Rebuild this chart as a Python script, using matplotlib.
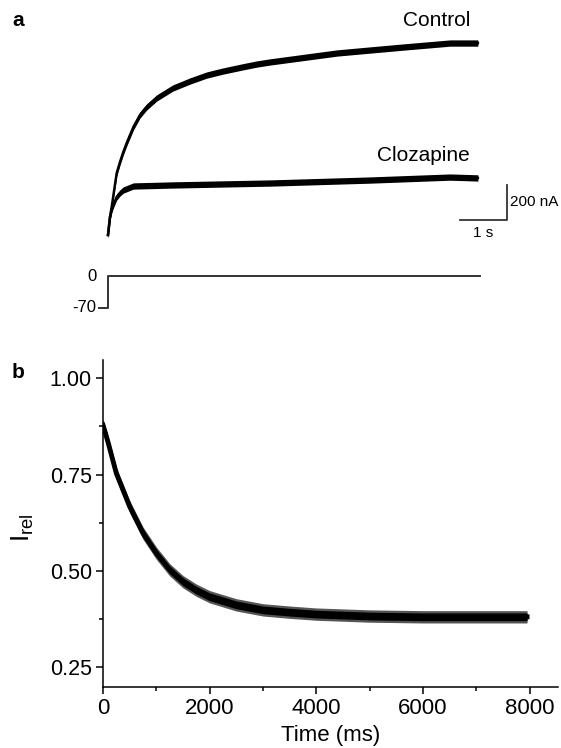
import numpy as np
import matplotlib
matplotlib.use("Agg")
from matplotlib import pyplot as plt
from matplotlib.ticker import MultipleLocator, FormatStrFormatter

plt.rcParams['font.family'] = ['Liberation Sans', 'DejaVu Sans']

# panel a: current traces (time in s, current in nA)
ctrl_t = [0, 0.043, 0.078, 0.185, 0.255, 0.325, 0.398, 0.54, 0.681, 0.82, 1.036, 1.38, 1.745,
          2.10, 2.447, 2.85, 3.164, 3.45, 4.87, 5.57, 6.28, 7.28, 7.87]
ctrl_i = [0, 103, 160, 354, 417, 474, 526, 617, 686, 731, 783, 840, 880,
          914, 937, 960, 977, 989, 1040, 1057, 1074, 1097, 1097]
cloz_t = [0, 0.043, 0.078, 0.113, 0.185, 0.255, 0.325, 0.54, 1.39, 3.45, 5.57, 7.28, 7.87]
cloz_i = [0, 103, 143, 171, 217, 240, 257, 280, 286, 297, 314, 331, 326]

# voltage protocol (s, mV)
prot_t = [-0.2, 0, 0, 7.91]
prot_v = [-70, -70, 0, 0]

# panel b: relative current (ms)
rel_t = [0, 50, 100, 250, 500, 750, 1000, 1250, 1500, 1750, 2000, 2500, 3000, 3500, 4000,
         5000, 6000, 7000, 7950]
rel_i = [0.878, 0.855, 0.831, 0.753, 0.667, 0.598, 0.546, 0.503, 0.472, 0.45, 0.433, 0.412,
         0.399, 0.393, 0.388, 0.383, 0.381, 0.381, 0.381]
fit_t = [0, 250, 500, 750, 1000, 1500, 2000, 2500, 3000, 4000, 5000, 6000, 7000, 7950]
fit_i = [0.87, 0.75, 0.662, 0.592, 0.54, 0.465, 0.425, 0.405, 0.394, 0.385, 0.382, 0.381, 0.381, 0.381]

W, H = 561, 748
fig = plt.figure(figsize=(W / 100, H / 100), dpi=100)


def px_axes(x0, y0, x1, y1):
    return fig.add_axes([x0 / W, 1 - y1 / H, (x1 - x0) / W, (y1 - y0) / H])


# ---- panel a
ax_a = px_axes(60, 0, 561, 255)
ax_a.set_xlim(-1.0213, 9.6383)
ax_a.set_ylim(-114.3, 1342.9)
ax_a.axis('off')
for t, i in [(ctrl_t, ctrl_i), (cloz_t, cloz_i)]:
    t = np.array(t)
    i = np.array(i)
    ax_a.fill_between(t, i - 18, i + 18, color='black', lw=0)
    ax_a.plot(t, i, color='black', lw=1.8)
ax_a.text(7.70, 1223, "Control", ha='right', va='center', fontsize=15)
ax_a.text(7.70, 457, "Clozapine", ha='right', va='center', fontsize=15)
# scale bars
ax_a.plot([7.49, 8.49, 8.49], [85.7, 85.7, 285.7], color='#333333', lw=1.3)
ax_a.text(8.56, 188, "200 nA", ha='left', va='center', fontsize=11)
ax_a.text(7.99, 11, "1 s", ha='center', va='center', fontsize=11)

ax_v = px_axes(60, 258, 561, 325)
ax_v.set_xlim(-1.0213, 9.6383)
ax_v.set_ylim(-107.2, 39.4)
ax_v.axis('off')
ax_v.plot(prot_t, prot_v, color='#333333', lw=1.4)
ax_v.text(-0.34, 0, "0", ha='center', va='center', fontsize=12)
ax_v.text(-0.24, -70, "-70", ha='right', va='center', fontsize=12)

fig.text(18 / W, 1 - 20 / H, "a", ha='center', va='center', fontsize=15, fontweight='bold')

# ---- panel b
ax_b = px_axes(103, 360, 558, 687)
rt = np.array(rel_t)
ri = np.array(rel_i)
ax_b.fill_between(rt, ri - 0.016, ri + 0.016, color='#555555', lw=0)
ax_b.fill_between(rt, ri - 0.01, ri + 0.01, color='black', lw=0)
ax_b.plot(rt, ri, color='black', lw=3.5)
ax_b.plot(fit_t, fit_i, color='black', lw=0.9)
ax_b.set_xlim(0, 8530)
ax_b.set_ylim(0.199, 1.047)
ax_b.spines['top'].set_visible(False)
ax_b.spines['right'].set_visible(False)
for s in ['left', 'bottom']:
    ax_b.spines[s].set_linewidth(1.1)
ax_b.xaxis.set_major_locator(MultipleLocator(2000))
ax_b.xaxis.set_minor_locator(MultipleLocator(1000))
ax_b.yaxis.set_major_locator(MultipleLocator(0.25))
ax_b.yaxis.set_minor_locator(MultipleLocator(0.125))
ax_b.yaxis.set_major_formatter(FormatStrFormatter('%.2f'))
ax_b.tick_params(which='major', length=5, width=1.1, direction='out', pad=3)
ax_b.tick_params(which='minor', length=3, width=1.1, direction='out')
ax_b.tick_params(axis='x', labelsize=16)
ax_b.tick_params(axis='y', labelsize=15.5)
ax_b.set_xlabel("Time (ms)", fontsize=16, labelpad=4)
fig.text(23 / W, 1 - 528 / H, r"$\mathregular{I_{rel}}$", rotation=90,
         ha='center', va='center', fontsize=19)

fig.text(18 / W, 1 - 373 / H, "b", ha='center', va='center', fontsize=15, fontweight='bold')

fig.savefig("out.png", dpi=100)
